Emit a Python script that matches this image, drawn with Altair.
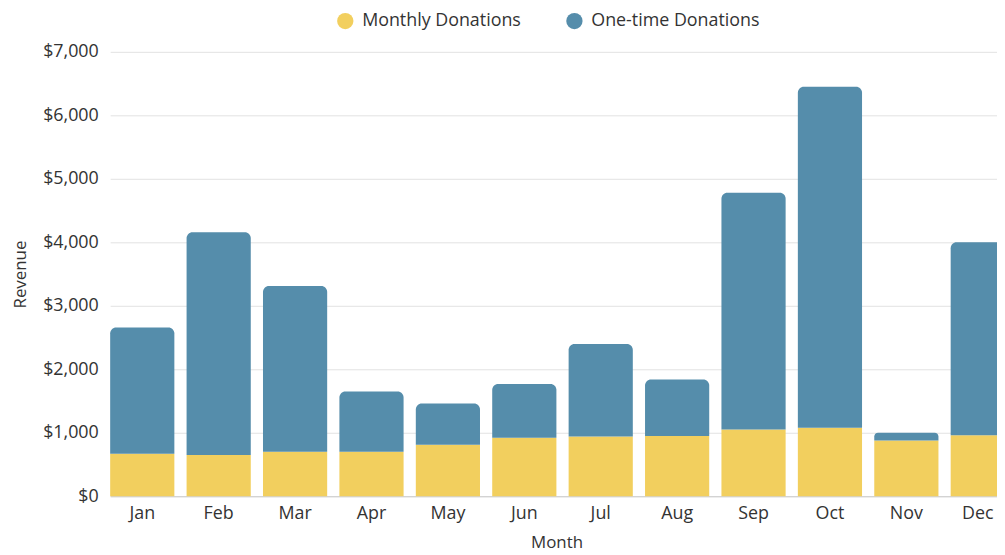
import altair as alt
import pandas as pd

months = ["Jan", "Feb", "Mar", "Apr", "May", "Jun", "Jul", "Aug", "Sep", "Oct", "Nov", "Dec"]
monthly = [670, 650, 700, 700, 810, 920, 940, 950, 1050, 1080, 880, 960]
totals = [2660, 4160, 3310, 1650, 1460, 1770, 2400, 1840, 4780, 6450, 1000, 4000]
series = ["Monthly Donations", "One-time Donations"]
colors = ["#F2CF5E", "#558DAB"]

rows = []
for m, mo, t in zip(months, monthly, totals):
    rows.append({"Month": m, "Type": series[0], "start": 0, "end": mo})
    rows.append({"Month": m, "Type": series[1], "start": mo, "end": t})
df = pd.DataFrame(rows)

FONT = "Open Sans"

x = alt.X("Month:N", sort=months, title="Month",
          scale=alt.Scale(paddingInner=0.16, paddingOuter=0, range=[0, 912]),
          axis=alt.Axis(labelAngle=0, ticks=False, labelPadding=8,
                        labelOffset={"expr": "datum.value == 'Dec' ? -5 : 0"},
                        titleX=450, titleY=47, titleBaseline="middle",
                        domainColor="#cccccc", grid=False))
y = alt.Y("start:Q", title="Revenue",
          scale=alt.Scale(domain=[0, 7000]),
          axis=alt.Axis(format="$,.0f", values=[0, 1000, 2000, 3000, 4000, 5000, 6000, 7000],
                        ticks=False, domain=False, labelPadding=12,
                        titleX=-90, titleY=224, titleBaseline="middle",
                        gridColor="#e2e2e2"))
color = alt.Color("Type:N", scale=alt.Scale(domain=series, range=colors),
                  legend=alt.Legend(title=None, orient="none", direction="horizontal",
                                    legendX=228, legendY=-40, symbolType="circle",
                                    symbolSize=270, symbolOpacity=1, labelFontSize=18,
                                    labelFont=FONT, labelColor="#333333", columnPadding=44,
                                    labelLimit=0, labelOffset=8, symbolStrokeWidth=0))

base = alt.Chart(df)
lower = base.transform_filter(alt.datum.Type == series[0]).mark_bar().encode(
    x=x, y=y, y2="end:Q", color=color)
upper = base.transform_filter(alt.datum.Type == series[1]).mark_bar(
    cornerRadiusTopLeft=6, cornerRadiusTopRight=6).encode(
    x=x, y=y, y2="end:Q", color=color)

chart = alt.layer(lower, upper).properties(
    width=894, height=448,
    autosize=alt.AutoSizeParams(type="none"),
    padding={"left": 103, "top": 42, "right": 0, "bottom": 57},
).configure_axis(
    labelFont=FONT, titleFont=FONT, labelFontSize=18, titleFontSize=17,
    labelColor="#333333", titleColor="#333333", titleFontWeight="normal",
).configure_view(stroke=None)

chart.save("out.html", embed_options={"renderer": "svg", "actions": False})
